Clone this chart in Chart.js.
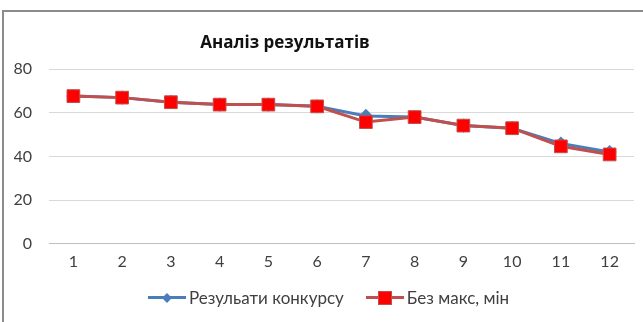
<!DOCTYPE html>
<html>
<head>
<meta charset="utf-8">
<script src="https://cdn.jsdelivr.net/npm/chart.js@4/dist/chart.umd.min.js"></script>
<style>
    body { margin: 0; background: #fff; font-family: Lato, "Open Sans", sans-serif; }
    #frame {
        position: absolute; left: 2px; top: 10px; width: 641px; height: 312px;
        border-top: 2px solid #8c8c8c; border-left: 2px solid #8c8c8c; box-sizing: border-box;
    }
    #title {
        position: absolute; left: 0; width: 570px; top: 30px; text-align: center;
        font: bold 17px "Open Sans", Lato, sans-serif; color: #111;
    }
    #legend {
        position: absolute; top: 287px; left: 148px; font-size: 17px; color: #404040;
        display: flex; align-items: center; white-space: nowrap;
    }
    .key { position: relative; display: inline-block; width: 38px; height: 3px; margin-right: 3px; }
    .mk { position: absolute; top: 50%; left: 50%; }
    .diamond { width: 7px; height: 7px; transform: translate(-50%, -50%) rotate(45deg); background: #4a7ebb; }
    .square { width: 12px; height: 12px; transform: translate(-50%, -50%); background: #ff0000; border: 1px solid #c0504d; }
</style>
</head>
<body>
<div id="frame"><canvas id="chart"></canvas></div>
<div id="title">Аналіз результатів</div>
<div id="legend"></div>

<script>
const categories = ["1", "2", "3", "4", "5", "6", "7", "8", "9", "10", "11", "12"];
const results = [67.6, 66.9, 64.8, 63.7, 63.7, 62.9, 58.5, 58.0, 54.1, 52.9, 45.9, 42.0];
const noMaxMin = [67.6, 66.9, 64.8, 63.7, 63.7, 62.9, 55.7, 58.0, 54.1, 52.9, 44.6, 40.9];
const seriesNames = ["Резульати конкурсу", "Без макс, мін"];
const yTicks = [0, 20, 40, 60, 80];

const blue = "#4a7ebb";
const red = "#c0504d";

function legendHtml() {
    document.getElementById("legend").innerHTML =
        `<span class="key" style="background:${blue}"><span class="mk diamond"></span></span>` +
        `<span>${seriesNames[0]}</span>` +
        `<span style="display:inline-block;width:22px"></span>` +
        `<span class="key" style="background:${red}"><span class="mk square"></span></span>` +
        `<span>${seriesNames[1]}</span>`;
}

const canvas = document.getElementById("chart");
canvas.width = 641;
canvas.height = 312;

new Chart(canvas, {
    type: "line",
    data: {
        labels: categories,
        datasets: [
            {
                label: seriesNames[0],
                data: results,
                borderColor: blue,
                backgroundColor: blue,
                borderWidth: 3,
                pointStyle: "rectRot",
                pointRadius: 5,
                tension: 0,
                order: 1
            },
            {
                label: seriesNames[1],
                data: noMaxMin,
                borderColor: red,
                backgroundColor: "#ff0000",
                pointBorderColor: red,
                pointBorderWidth: 1,
                borderWidth: 3,
                pointStyle: "rect",
                pointRadius: 9,
                tension: 0,
                order: 0
            }
        ]
    },
    options: {
        responsive: false,
        animation: false,
        layout: { padding: { top: 57, right: 11, bottom: 45, left: 10 } },
        plugins: {
            legend: { display: false },
            title: { display: false },
            tooltip: { enabled: false }
        },
        scales: {
            x: {
                offset: true,
                grid: { display: false, drawTicks: false, tickLength: 0 },
                border: { color: "#bfbfbf", width: 1 },
                ticks: { color: "#404040", font: { family: "Lato", size: 16 }, padding: 8 }
            },
            y: {
                min: 0,
                max: 80,
                afterBuildTicks: s => { s.ticks = yTicks.map(v => ({ value: v })); },
                afterFit: s => { s.width = 35; },
                grid: { color: "#d9d9d9", drawTicks: false, lineWidth: 1 },
                border: { display: false },
                ticks: { color: "#404040", font: { family: "Lato", size: 16 }, padding: 17 }
            }
        }
    }
});

legendHtml();
</script>
</body>
</html>
